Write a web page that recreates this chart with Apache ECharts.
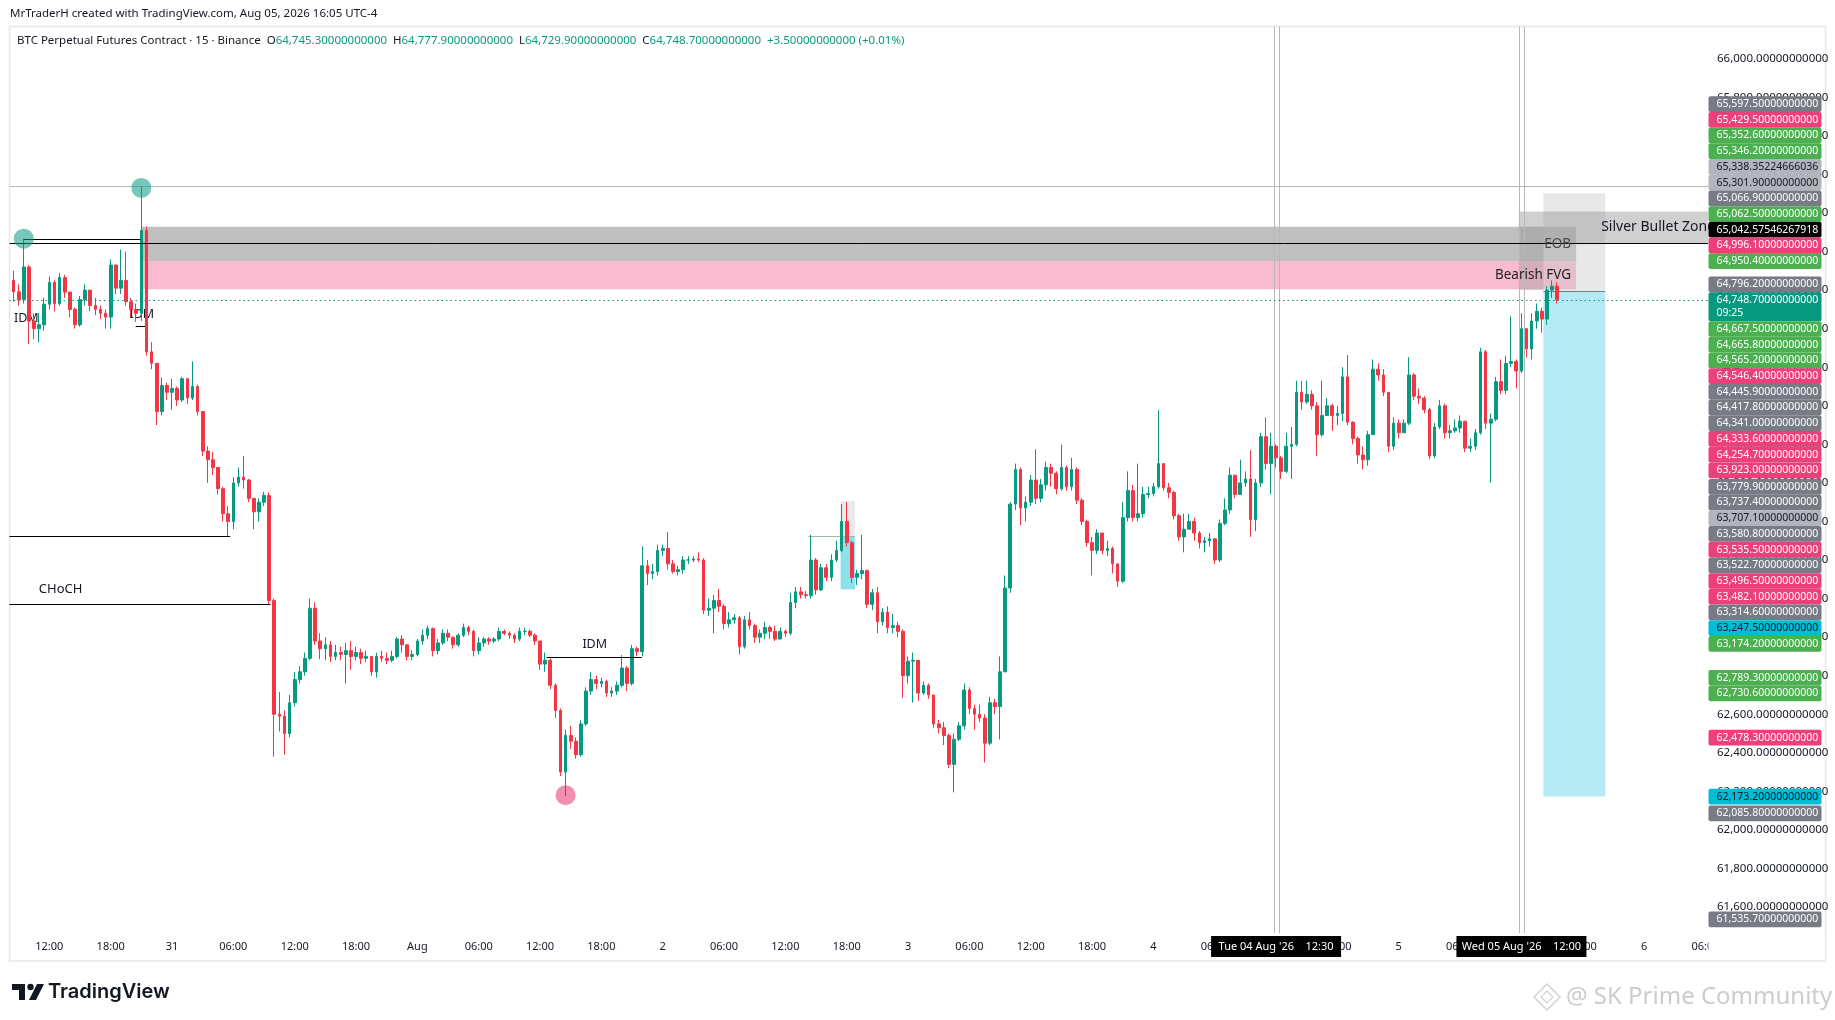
<!DOCTYPE html>
<html>
<head>
<meta charset="utf-8">
<script src="https://cdn.jsdelivr.net/npm/echarts@6/dist/echarts.min.js"></script>
<style>
html,body{margin:0;padding:0;background:#ffffff;}
#c{width:1835px;height:1020px;}
</style>
</head>
<body>
<div id="c"></div>
<script>
// ---------------- DATA (30-minute candles) ----------------
const startUTC = Date.UTC(2026, 6, 30, 8, 30);   // first candle: Jul 30 08:30
const slotMinutes = 30;
const totalSlots = 332;                           // visible time slots incl. empty right margin
const firstOpen = 64850;

const closes = [
64791,64750,64920,64640,64600,64620,64727,64840,64730,64865,
64790,64700,64620,64750,64800,64720,64700,64680,64660,64930,
64810,64850,64740,64700,64680,65110,64480,64420,64170,64305,
64270,64290,64230,64340,64240,64300,64170,63965,63920,63880,
63770,63640,63600,63800,63830,63815,63720,63650,63700,63735,
63190,62600,62590,62500,62660,62780,62820,62890,63150,62980,
62940,62960,62900,62920,62910,62930,62900,62920,62890,62900,
62820,62900,62890,62880,62900,62990,62960,62900,62910,62980,
63010,63044,62930,62970,63020,63000,62960,63010,63050,63030,
62930,62970,62990,62980,62990,63030,63020,63010,62990,63030,
63030,63010,62980,62860,62880,62750,62620,62300,62490,62460,
62390,62550,62720,62780,62760,62770,62710,62720,62750,62840,
62760,62940,62925,63370,63330,63340,63450,63460,63380,63340,
63350,63400,63400,63405,63400,63140,63150,63190,63160,63070,
63090,63100,62950,63090,63060,63000,63020,63050,63030,62990,
63030,63020,63180,63235,63220,63215,63400,63245,63360,63310,
63400,63450,63600,63490,63310,63330,63345,63170,63230,63080,
63130,63050,63060,63030,62800,62875,62880,62710,62750,62700,
62550,62530,62490,62340,62470,62540,62726,62630,62600,62580,
62450,62660,62640,62820,63255,63690,63870,63670,63700,63815,
63720,63790,63880,63850,63770,63880,63780,63870,63710,63600,
63490,63450,63540,63450,63460,63380,63290,63620,63760,63620,
63640,63740,63745,63780,63900,63775,63750,63630,63520,63560,
63600,63540,63490,63500,63510,63400,63590,63660,63840,63740,
63800,63820,63610,63800,64040,63900,63990,63930,63860,63990,
64000,64270,64220,64260,64200,64050,64150,64200,64150,64160,
64350,64115,64030,63945,63920,64050,64390,64360,64270,63990,
64110,64060,64110,64360,64250,64240,64180,63940,64090,64200,
64060,64070,64085,64120,63980,63990,64060,64480,64110,64130,
64325,64280,64420,64430,64380,64600,64495,64640,64690,64650,
64800,64820,64748.7
];
const highs = [
64900,64830,65066.9,64930,64680,64680,64760,64870,64850,64890,
64880,64790,64710,64770,64830,64800,64760,64720,64700,64960,
64930,65010,65000,64760,64730,65338.4,65130,64530,64420,64346,
64320,64340,64300,64350,64345,64430,64310,64170,63990,63960,
63880,63780,63680,63830,63880,63940,63820,63720,63720,63754,
63750,63200,62716,62620,62700,62820,62850,62920,63200,63180,
63020,63000,62980,62960,62950,62970,62980,62950,62940,62930,
62900,62920,62930,62920,62930,63000,63010,62960,62930,62990,
63040,63060,63050,62990,63040,63040,63000,63020,63070,63060,
63040,63000,63000,63000,63000,63050,63040,63030,63020,63050,
63050,63040,63020,62980,62920,62890,62760,62630,62520,62540,
62480,62570,62740,62820,62800,62790,62780,62740,62770,62907,
62850,62960,62950,63470,63400,63380,63480,63480,63546,63400,
63370,63420,63420,63420,63440,63410,63200,63220,63250,63170,
63130,63120,63110,63110,63130,63070,63040,63080,63060,63060,
63050,63040,63230,63260,63260,63240,63530,63410,63380,63380,
63430,63500,63690,63700,63500,63350,63530,63350,63250,63260,
63150,63160,63120,63080,63040,62900,62920,62880,62770,62760,
62700,62570,62560,62500,62500,62560,62760,62740,62650,62650,
62600,62690,62680,62900,63320,63700,63900,63880,63730,63840,
63975,63820,63910,63900,63860,63998,63890,63930,63880,63720,
63610,63520,63560,63540,63500,63470,63380,63700,63860,63790,
63900,63780,63780,63800,64177,63900,63800,63760,63640,63640,
63640,63620,63550,63520,63540,63510,63610,63720,63880,63840,
63920,63860,63970,63820,64060,64140,64060,64000,63940,64060,
64090,64330,64330,64330,64280,64220,64330,64240,64210,64200,
64400,64463,64120,64040,63990,64070,64440,64420,64390,64270,
64140,64130,64130,64452,64370,64290,64250,64190,64110,64230,
64210,64100,64130,64150,64120,64030,64080,64500,64490,64160,
64350,64440,64460,64664,64440,64680,64600,64680,64730,64710,
64820,64850,64840
];
const lows = [
64740,64720,64730,64520,64545,64530,64590,64700,64690,64720,
64760,64660,64600,64610,64720,64690,64670,64650,64600,64600,
64780,64780,64720,64660,64635,64640,64460,64390,64100,64150,
64230,64180,64200,64220,64210,64230,64150,63940,63800,63840,
63740,63600,63522.7,63560,63780,63770,63700,63560,63600,63680,
63170,62380,62510,62390,62480,62640,62760,62800,62880,62960,
62886,62880,62870,62880,62880,62760,62830,62880,62860,62870,
62800,62790,62870,62860,62870,62890,62920,62880,62880,62900,
62960,62990,62900,62910,62960,62980,62940,62950,63000,63010,
62900,62910,62950,62960,62970,62980,63010,62990,62970,62980,
63010,63000,62960,62830,62820,62730,62580,62280,62175,62420,
62370,62380,62540,62700,62730,62740,62690,62690,62700,62740,
62720,62750,62900,62900,63270,63300,63320,63420,63350,63330,
63320,63330,63380,63390,63390,63120,63110,63020,63130,63040,
63050,63070,62910,62940,63040,62970,62970,62990,62990,62980,
62990,63000,63010,63150,63200,63200,63200,63220,63240,63290,
63290,63390,63440,63470,63280,63270,63300,63150,63140,63020,
63060,63020,63020,63000,62685,62760,62660,62670,62700,62680,
62530,62500,62440,62320,62195,62460,62520,62600,62520,62560,
62350,62440,62600,62470,62820,63230,63660,63580,63600,63680,
63690,63700,63760,63780,63740,63760,63760,63760,63690,63580,
63470,63320,63430,63430,63420,63330,63260,63280,63600,63600,
63600,63620,63720,63730,63770,63760,63720,63610,63500,63440,
63560,63500,63460,63440,63470,63380,63390,63580,63640,63720,
63740,63780,63520,63550,63780,63870,63740,63880,63820,63850,
63820,63990,64180,64210,64180,63940,64040,64150,64070,64100,
64120,64100,64000,63900,63870,63890,64050,64330,64250,63960,
63970,64030,64060,64100,64230,64210,64160,63923,63930,64080,
64030,64030,64060,64060,63960,63960,63970,64050,64080,63800,
64120,64260,64260,64400,64290,64370,64452,64440,64600,64579,
64620,64760,64729.9
];

// time-axis tick labels (first at slot 7 = Jul 30 12:00, then every 12 slots = 6h)
const xTickLabels = ['12:00','18:00','31','06:00','12:00','18:00','Aug','06:00','12:00','18:00','2','06:00','12:00','18:00','3','06:00','12:00','18:00','4','06:00','12:00','18:00','5','06:00','12:00','18:00','6','06:00'];
const firstTickSlot = 7, tickEverySlots = 12;

// price axis
const yMin = 61400, yMax = 66200, yStep = 200;

// last 15m bar legend values
const lastBar = {open: 64745.3, high: 64777.9, low: 64729.9, close: 64748.7, change: 3.5, changePct: 0.01};
const countdown = '09:25';

// price scale tags (price, kind)
const tagPrices = [65597.5,65429.5,65352.6,65346.2,65338.35224666036,65301.9,65066.9,65062.5,65042.57546267918,64996.1,64950.4,
  64796.2,64748.7,64667.5,64665.8,64565.2,64546.4,64445.9,64417.8,64341.0,64333.6,64254.7,63923.0,63779.9,63737.4,63707.1,63580.8,63535.5,63522.7,63496.5,63482.1,63314.6,63247.5,63174.2,
  62789.3,62730.6,62478.3,62173.2,62085.8,61535.7];
const tagKinds = ['G','P','GR','GR','LG','LG','G','GR','BK','P','GR',
  'G','CUR','GR','GR','GR','P','G','G','G','P','P','P','G','G','LG','G','P','G','P','P','G','CY','GR',
  'GR','GR','P','CY','G','G'];

// drawings (slot index, price)
const eobZone = [25.1, 305.7, 65129, 64950.4];
const fvgZone = [25.1, 305.7, 64950.4, 64805];
const silverBulletZone = [294.5, 331.5, 65208, 65042.6];
const silverBulletWindow = [294.5, 299.3, 65042.6, 64800];
const shortPosition = [299.3, 311.4, 64796.2, 65301.9, 62173.2]; // start,end,entry,stop,target
const smallPosition = [161.8, 164.6, 63522.7, 63707.1, 63247.5];
const smallPositionLine = [155.5, 161.8, 63522.7];
const swingHighLine = 65338.35224666036;
const equilibriumLine = 65042.57546267918;
const idmHighLine = [2, 24.8, 65066.9];
const bosLine = [-0.4, 42.4, 63522.7];
const chochLine = [-0.4, 50.3, 63174.2];
const idmLowLine = [104.3, 122.9, 62896];
const idmMarkLine = [23.9, 25.8, 64616];
const verticalLines = [246.5, 247.5, 294.5, 295.5];
const timeMarks = [[246.5, 247.5, "Tue 04 Aug '26", '12:30'], [294.5, 295.5, "Wed 05 Aug '26", '12:00']];
const highCircles = [[2, 65066.9], [25, 65330]];
const lowCircles = [[108, 62180]];
const annotationTexts = [['IDM', 2.5, 64653], ['IDM', 25.1, 64675], ['CHoCH', 9.2, 63250], ['IDM', 113.7, 62963]];

// ---------------- BUILD ----------------
const categories = [];
for (let i = 0; i < totalSlots; i++) {
  const d = new Date(startUTC + i * slotMinutes * 60000);
  categories.push((d.getUTCMonth() + 1) + '/' + d.getUTCDate() + ' ' +
    String(d.getUTCHours()).padStart(2, '0') + ':' + String(d.getUTCMinutes()).padStart(2, '0'));
}
const candles = closes.map((c, i) => {
  const o = i === 0 ? firstOpen : closes[i - 1];
  const h = Math.max(highs[i], o, c);
  const l = Math.min(lows[i], o, c);
  return [o, c, l, h];
});

const fmt11 = v => v.toLocaleString('en-US', {minimumFractionDigits: 11, maximumFractionDigits: 11});
const UP = '#089981', DOWN = '#f23645', INK = '#131722';
const FONT = '"Noto Sans", "DejaVu Sans", sans-serif';

const chart = echarts.init(document.getElementById('c'), null, {renderer: 'canvas'});
chart.setOption({
  animation: false,
  backgroundColor: '#ffffff',
  grid: {left: 11, right: 127, top: 20.2, bottom: 74.4, containLabel: false},
  xAxis: {
    type: 'category', data: categories, boundaryGap: true,
    axisLine: {show: false}, axisTick: {show: false}, splitLine: {show: false},
    axisLabel: {show: false}
  },
  yAxis: {
    type: 'value', position: 'right', min: yMin, max: yMax, interval: yStep, scale: true,
    axisLine: {show: false}, axisTick: {show: false}, splitLine: {show: false},
    axisLabel: {color: INK, fontSize: 11.5, fontFamily: FONT, margin: 9, showMinLabel: false, showMaxLabel: false,
      formatter: v => fmt11(v)}
  },
  series: [{
    type: 'candlestick', data: candles, barWidth: '62%', z: 2,
    itemStyle: {color: UP, color0: DOWN, borderColor: UP, borderColor0: DOWN, borderWidth: 1}
  }]
});

// ---------------- OVERLAYS ----------------
const x0p = chart.convertToPixel({xAxisIndex: 0}, 0);
const x1p = chart.convertToPixel({xAxisIndex: 0}, 1);
const X = k => x0p + (x1p - x0p) * k;
const Y = p => chart.convertToPixel({yAxisIndex: 0}, p);
const paneLeft = 9.5, paneTop = 26.5, paneRight = X(totalSlots - 0.5), plotBottom = 933, frameRight = 1825.5, frameBottom = 961;
const timeLabelY = 947;

const els = [];
const rectBy = (k0, k1, pTop, pBot, fill, z) => {
  const x = X(k0), y = Y(pTop);
  els.push({type: 'rect', z: z, silent: true, shape: {x: x, y: y, width: X(k1) - x, height: Y(pBot) - y}, style: {fill: fill}});
};
const hline = (k0, k1, p, stroke, z, w, dash) => {
  const y = Math.round(Y(p)) + 0.5;
  els.push({type: 'line', z: z, silent: true, shape: {x1: typeof k0 === 'number' ? X(k0) : k0.px, y1: y, x2: typeof k1 === 'number' ? X(k1) : k1.px, y2: y},
    style: {stroke: stroke, lineWidth: w || 1, lineDash: dash || null}});
};

// frame
els.push({type: 'rect', z: 0, silent: true, shape: {x: paneLeft, y: paneTop, width: frameRight - paneLeft, height: frameBottom - paneTop},
  style: {fill: 'none', stroke: '#e6e8ee', lineWidth: 1.5}});

// time axis labels
xTickLabels.forEach((t, i) => {
  const slot = firstTickSlot + i * tickEverySlots;
  els.push({type: 'text', z: 5, silent: true, style: {text: t, x: X(slot), y: timeLabelY, fill: INK, fontSize: 11, fontFamily: FONT,
    align: 'center', verticalAlign: 'middle'}});
});

// zones
rectBy(eobZone[0], eobZone[1], eobZone[2], eobZone[3], '#c0c0c0', 0);
rectBy(fvgZone[0], fvgZone[1], fvgZone[2], fvgZone[3], '#f8bbd0', 0);
// position tool (short)
rectBy(shortPosition[0], shortPosition[1], shortPosition[3], shortPosition[2], 'rgba(200,200,200,0.42)', 0.5);
rectBy(shortPosition[0], shortPosition[1], shortPosition[2], shortPosition[4], '#b5e9f3', 0.5);
// silver bullet
rectBy(silverBulletZone[0], silverBulletZone[1], silverBulletZone[2], silverBulletZone[3], 'rgba(150,150,150,0.45)', 0.6);
rectBy(silverBulletWindow[0], silverBulletWindow[1], silverBulletWindow[2], silverBulletWindow[3], 'rgba(150,150,150,0.35)', 0.6);
// small position tool
rectBy(smallPosition[0], smallPosition[1], smallPosition[3], smallPosition[2], 'rgba(200,200,200,0.4)', 0.5);
rectBy(smallPosition[0], smallPosition[1], smallPosition[2], smallPosition[4], 'rgba(0,188,212,0.45)', 0.5);
hline(smallPositionLine[0], smallPosition[1], smallPositionLine[2], '#9fb8a8', 1, 1);
hline(shortPosition[0], shortPosition[1], shortPosition[2], '#787b86', 1, 1);

// vertical lines
verticalLines.forEach(k => {
  const x = Math.round(X(k)) + 0.5;
  els.push({type: 'line', z: 1, silent: true, shape: {x1: x, y1: paneTop, x2: x, y2: plotBottom}, style: {stroke: '#b8b8b8', lineWidth: 1}});
});

// horizontal lines
hline({px: paneLeft}, {px: paneRight}, swingHighLine, '#b2b5be', 3, 1);
hline({px: paneLeft}, {px: paneRight}, equilibriumLine, '#000000', 3, 1);
hline(idmHighLine[0], idmHighLine[1], idmHighLine[2], '#000000', 3, 1);
hline({px: paneLeft}, bosLine[1], bosLine[2], '#000000', 3, 1);
hline({px: paneLeft}, chochLine[1], chochLine[2], '#000000', 3, 1);
hline(idmLowLine[0], idmLowLine[1], idmLowLine[2], '#000000', 3, 1);
hline(idmMarkLine[0], idmMarkLine[1], idmMarkLine[2], '#000000', 1, 1);
// current price dotted line
hline({px: paneLeft}, {px: paneRight}, lastBar.close, UP, 3, 1, [1.5, 3]);

// circles
highCircles.forEach(([k, p]) => els.push({type: 'circle', z: 4, silent: true, shape: {cx: X(k), cy: Y(p), r: 10}, style: {fill: 'rgba(8,153,129,0.55)'}}));
lowCircles.forEach(([k, p]) => els.push({type: 'circle', z: 4, silent: true, shape: {cx: X(k), cy: Y(p), r: 10}, style: {fill: 'rgba(233,30,99,0.5)'}}));

// annotation texts
annotationTexts.forEach(([t, k, p]) => els.push({type: 'text', z: 1, silent: true,
  style: {text: t, x: X(k), y: Y(p), fill: INK, fontSize: t === 'CHoCH' ? 13 : 12.5, fontFamily: FONT, align: 'center', verticalAlign: 'middle'}}));
// zone labels
els.push({type: 'text', z: 5, silent: true, style: {text: 'EOB', x: X(eobZone[1]) - 5, y: (Y(eobZone[2]) + Y(eobZone[3])) / 2,
  fill: '#4a4a4a', fontSize: 13.5, fontFamily: FONT, align: 'right', verticalAlign: 'middle'}});
els.push({type: 'text', z: 5, silent: true, style: {text: 'Bearish FVG', x: X(fvgZone[1]) - 5, y: (Y(fvgZone[2]) + Y(fvgZone[3])) / 2,
  fill: '#1e1e1e', fontSize: 13.5, fontFamily: FONT, align: 'right', verticalAlign: 'middle'}});
els.push({type: 'text', z: 5, silent: true, style: {text: 'Silver Bullet Zone', x: X(310.6), y: (Y(silverBulletZone[2]) + Y(silverBulletZone[3])) / 2,
  fill: INK, fontSize: 14, fontFamily: FONT, align: 'left', verticalAlign: 'middle'}});

// price tags: current price tag fixed, others stacked away from it
const tagColors = {G: ['#787b86', '#ffffff'], P: ['#ec407a', '#ffffff'], GR: ['#4caf50', '#ffffff'], LG: ['#b2b5be', INK],
  BK: ['#000000', '#ffffff'], CUR: ['#089981', '#ffffff'], CY: ['#00bcd4', INK]};
const TAG_H = 15.7, HALF = 7.85, tagX = paneRight + 0.5, tagW = 113;
const items = tagPrices.map((p, i) => ({p: p, kind: tagKinds[i], h: tagKinds[i] === 'CUR' ? 29 : TAG_H, ideal: Y(p) - HALF}));
const cur = items.find(it => it.kind === 'CUR');
cur.top = cur.ideal;
const above = items.filter(it => it !== cur && it.ideal <= cur.ideal).sort((a, b) => b.ideal - a.ideal);
let limit = cur.top;
above.forEach(it => { it.top = Math.min(it.ideal, limit - it.h); limit = it.top; });
const below = items.filter(it => it !== cur && it.ideal > cur.ideal).sort((a, b) => a.ideal - b.ideal);
limit = cur.top + cur.h;
below.forEach(it => { it.top = Math.max(it.ideal, limit); limit = it.top + it.h; });
items.forEach(it => {
  const [bg, fg] = tagColors[it.kind];
  els.push({type: 'rect', z: 10, silent: true, shape: {x: tagX, y: it.top, width: tagW, height: it.h, r: 2}, style: {fill: bg}});
  els.push({type: 'text', z: 11, silent: true, style: {text: fmt11(it.p), x: tagX + 8, y: it.top + HALF, fill: fg, fontSize: 10.5, fontFamily: FONT, verticalAlign: 'middle'}});
  if (it.kind === 'CUR') {
    els.push({type: 'text', z: 11, silent: true, style: {text: countdown, x: tagX + 8, y: it.top + HALF + 13, fill: fg, fontSize: 10.5, fontFamily: FONT, verticalAlign: 'middle'}});
  }
});

// cover for the time-axis row under the price scale
els.push({type: 'rect', z: 6, silent: true, shape: {x: paneRight + 0.5, y: plotBottom + 2, width: frameRight - paneRight - 1.5, height: frameBottom - plotBottom - 3}, style: {fill: '#ffffff'}});

// time marks on the axis
timeMarks.forEach(([a, b, d, t]) => {
  const cx = (X(a) + X(b)) / 2;
  els.push({type: 'rect', z: 8, silent: true, shape: {x: cx - 65, y: timeLabelY - 11, width: 130, height: 21}, style: {fill: '#000000'}});
  els.push({type: 'text', z: 9, silent: true, style: {text: d + '    ' + t, x: cx, y: timeLabelY, fill: '#ffffff', fontSize: 11, fontFamily: FONT, align: 'center', verticalAlign: 'middle'}});
});

// header texts
els.push({type: 'text', z: 12, silent: true, style: {text: 'MrTraderH created with TradingView.com, Aug 05, 2026 16:05 UTC-4', x: 10, y: 14,
  fill: INK, fontSize: 11.5, fontFamily: FONT, verticalAlign: 'middle'}});
const legend = '{t|BTC Perpetual Futures Contract · 15 · Binance}  {t|O}{v|' + fmt11(lastBar.open) + '}  {t|H}{v|' + fmt11(lastBar.high) +
  '}  {t|L}{v|' + fmt11(lastBar.low) + '}  {t|C}{v|' + fmt11(lastBar.close) + '}  {v|+' + fmt11(lastBar.change) + ' (+' + lastBar.changePct.toFixed(2) + '%)}';
els.push({type: 'text', z: 12, silent: true, style: {text: legend, x: 17, y: 41, verticalAlign: 'middle', fontSize: 11.5, fontFamily: FONT,
  rich: {t: {fill: INK, fontSize: 11.5, fontFamily: FONT}, v: {fill: UP, fontSize: 11.5, fontFamily: FONT}}}});

// TradingView logo
els.push({type: 'rect', z: 12, silent: true, shape: {x: 12, y: 984, width: 13, height: 6}, style: {fill: INK}});
els.push({type: 'rect', z: 12, silent: true, shape: {x: 19, y: 984, width: 6, height: 16}, style: {fill: INK}});
els.push({type: 'circle', z: 12, silent: true, shape: {cx: 30.5, cy: 987, r: 3.2}, style: {fill: INK}});
els.push({type: 'polygon', z: 12, silent: true, shape: {points: [[37, 984], [44, 984], [36, 1000], [29, 1000]]}, style: {fill: INK}});
els.push({type: 'text', z: 12, silent: true, style: {text: 'TradingView', x: 48, y: 992, fill: INK, fontSize: 20, fontWeight: 600,
  fontFamily: 'Inter, "Noto Sans", sans-serif', verticalAlign: 'middle'}});

// watermark
els.push({type: 'polygon', z: 12, silent: true, shape: {points: [[1547, 984], [1560, 997], [1547, 1010], [1534, 997]]}, style: {fill: 'none', stroke: '#d2d2d2', lineWidth: 1.5}});
els.push({type: 'polygon', z: 12, silent: true, shape: {points: [[1547, 991], [1553, 997], [1547, 1003], [1541, 997]]}, style: {fill: 'none', stroke: '#d2d2d2', lineWidth: 1.2}});
els.push({type: 'text', z: 12, silent: true, style: {text: '@ SK Prime Community', x: 1566, y: 997, fill: '#cccccc', fontSize: 24,
  fontFamily: FONT, verticalAlign: 'middle'}});

chart.setOption({graphic: {elements: els}});
</script>
</body>
</html>
